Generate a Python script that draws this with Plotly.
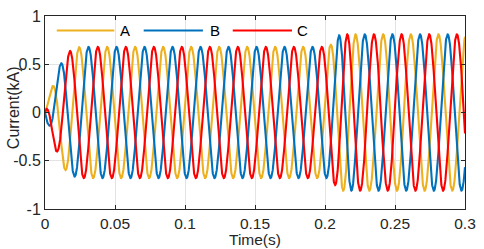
import numpy as np
import plotly.graph_objects as go

# ---- values ----
F_HZ = 50.0                      # fundamental frequency (Hz)
T_END = 0.3                      # end of record (s)
FIRST_PEAK_A = 0.0044            # time of first positive peak of phase A (s)
PHASE_LAG_DEG = [0.0, 120.0, 240.0]   # A, B, C
SERIES_NAMES = ["A", "B", "C"]
SERIES_COLORS = ["#EDB120", "#0072BD", "#FF0000"]

# amplitude envelope (kA) read at these instants (s)
ENV_T = [0.0, 0.0007, 0.0035, 0.005, 0.008, 0.011, 0.014, 0.018, 0.022, 0.026,
         0.2015, 0.204, 0.207, 0.210, 0.213, 0.300]
ENV_A = [0.0, 0.06, 0.19, 0.27, 0.40, 0.50, 0.59, 0.64, 0.67, 0.68,
         0.68, 0.70, 0.75, 0.80, 0.81, 0.81]

# phase advance after the disturbance, expressed as a time shift (s)
SHIFT_T = [0.0, 0.200, 0.210, 0.222, 0.300]
SHIFT_S = [0.0, 0.0, 0.0010, 0.0026, 0.0036]

X_TICKS = [0, 0.05, 0.1, 0.15, 0.2, 0.25, 0.3]
X_TICK_TEXT = ["0", "0.05", "0.1", "0.15", "0.2", "0.25", "0.3"]
Y_TICKS = [-1, -0.5, 0, 0.5, 1]
Y_TICK_TEXT = ["-1", "-0.5", "0", "0.5", "1"]

# ---- build waveforms ----
t = np.linspace(0.0, T_END, 3001)
env = np.interp(t, ENV_T, ENV_A)
shift = np.interp(t, SHIFT_T, SHIFT_S)

FONT = "Liberation Sans, Arial, sans-serif"
AX_COLOR = "#262626"

fig = go.Figure()
for name, lag, col in zip(SERIES_NAMES, PHASE_LAG_DEG, SERIES_COLORS):
    theta = 2 * np.pi * F_HZ * (t + shift - FIRST_PEAK_A) - np.deg2rad(lag)
    y = env * np.cos(theta)
    fig.add_trace(go.Scatter(x=t, y=y, mode="lines", name=name,
                             line=dict(color=col, width=2.1), showlegend=False))

# ---- manual legend (long line samples as in the reference) ----
LEG_Y = 0.925
LEG_LINES = [(0.028, 0.165, 0.191), (0.235, 0.376, 0.404), (0.447, 0.588, 0.614)]
shapes = []
annotations = []
for (x0, x1, xt), name, col in zip(LEG_LINES, SERIES_NAMES, SERIES_COLORS):
    shapes.append(dict(type="line", xref="paper", yref="paper", x0=x0, x1=x1,
                       y0=LEG_Y, y1=LEG_Y, line=dict(color=col, width=2.1)))
    annotations.append(dict(xref="paper", yref="paper", x=xt, y=LEG_Y, text=name,
                            showarrow=False, xanchor="center", yanchor="middle",
                            font=dict(family=FONT, size=15, color="#000000")))

# axis titles
annotations.append(dict(xref="paper", yref="paper", x=0.5, y=-0.158, text="Time(s)",
                        showarrow=False, xanchor="center", yanchor="middle",
                        font=dict(family=FONT, size=15.5, color=AX_COLOR)))
annotations.append(dict(xref="paper", yref="paper", x=-0.0765, y=0.527, text="Current(kA)",
                        showarrow=False, xanchor="center", yanchor="middle", textangle=-90,
                        font=dict(family=FONT, size=16, color=AX_COLOR)))

axis_common = dict(showline=True, linecolor=AX_COLOR, linewidth=1, mirror="ticks",
                   ticks="inside", ticklen=4, tickcolor=AX_COLOR, tickwidth=1,
                   showgrid=True, gridcolor="#e3e3e3", gridwidth=1, zeroline=False)

fig.update_layout(
    width=484, height=249,
    margin=dict(l=45, r=14, t=8, b=40),
    paper_bgcolor="white", plot_bgcolor="white",
    xaxis=dict(range=[0, T_END], tickmode="array", tickvals=X_TICKS,
               ticktext=X_TICK_TEXT, tickfont=dict(family=FONT, size=15.5, color=AX_COLOR),
               **axis_common),
    yaxis=dict(range=[-1, 1], tickmode="array", tickvals=Y_TICKS,
               ticktext=Y_TICK_TEXT, tickfont=dict(family=FONT, size=16, color=AX_COLOR),
               **axis_common),
    shapes=shapes, annotations=annotations, showlegend=False,
)

fig.write_html("out.html", config={"displayModeBar": False},
               post_script="document.body.style.margin='0';document.body.style.overflow='hidden';")
